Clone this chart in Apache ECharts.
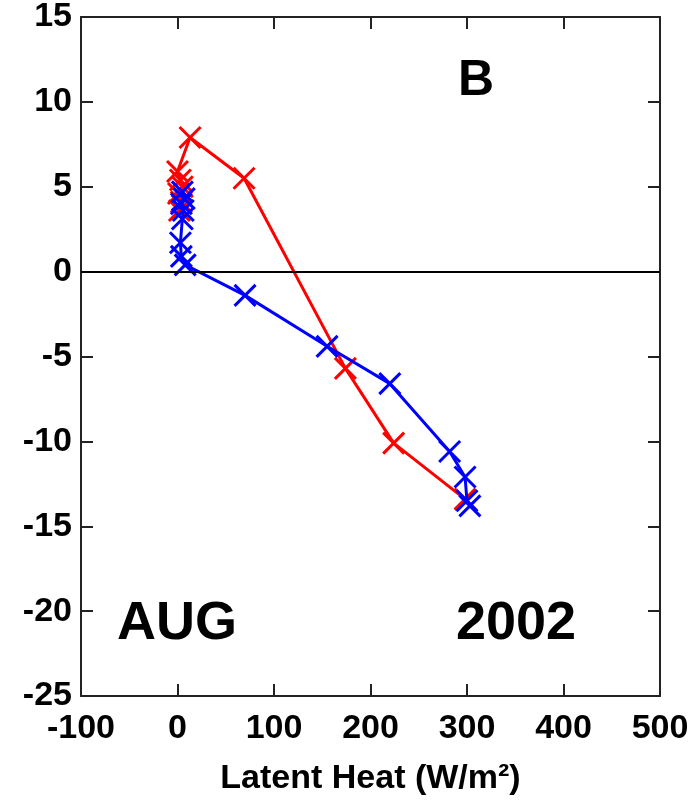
<!DOCTYPE html>
<html>
<head>
<meta charset="utf-8">
<script src="https://cdn.jsdelivr.net/npm/echarts@6/dist/echarts.min.js"></script>
<style>
  html, body { margin: 0; padding: 0; background: #fff; }
  #chart { width: 695px; height: 801px; }
</style>
</head>
<body>
<div id="chart"></div>
<script>
// 数据
const xTicks = [-100, 0, 100, 200, 300, 400, 500];
const yTicks = [-25, -20, -15, -10, -5, 0, 5, 10, 15];

// 红线
const redHeat = [2, 4, 1, 5, 3, 0, 13, 69, 174, 224, 298];
const redLevel = [3.6, 4.1, 4.6, 5.0, 5.4, 5.9, 7.9, 5.5, -5.7, -10.1, -13.4];

// 蓝线
const blueHeat = [5, 7, 4, 6, 5, 3, 4, 8, 70, 155, 220, 282, 298, 300, 303];
const blueLevel = [4.7, 4.3, 4.0, 3.6, 3.1, 1.7, 0.9, 0.4, -1.4, -4.4, -6.6, -10.6, -12.1, -13.5, -13.8];

const zip = (xs, ys) => xs.map((x, i) => [x, ys[i]]);

const font = '"Liberation Sans", Arial, Helvetica, sans-serif';
const cross = 'path://M0,0L10,10M10,0L0,10';

const chart = echarts.init(document.getElementById('chart'));

const axisCommon = {
  axisLine: { show: true, onZero: false, lineStyle: { color: '#222', width: 2 } },
  axisTick: { show: true, inside: true, length: 12, lineStyle: { color: '#222', width: 2 } },
  splitLine: { show: false }
};

const option = {
  animation: false,
  backgroundColor: '#fff',
  grid: { left: 81, right: 35, top: 11, bottom: 95, containLabel: false },
  xAxis: [
    Object.assign({}, axisCommon, {
      type: 'value', position: 'bottom',
      min: xTicks[0], max: xTicks[xTicks.length - 1], interval: 100,
      axisLabel: { color: '#000', fontSize: 34, fontWeight: 'bold', fontFamily: font, margin: 16 },
      name: 'Latent Heat (W/m²)',
      nameLocation: 'middle',
      nameGap: 66,
      nameTextStyle: { color: '#000', fontSize: 34, fontWeight: 'bold', fontFamily: font }
    }),
    Object.assign({}, axisCommon, {
      type: 'value', position: 'top',
      min: xTicks[0], max: xTicks[xTicks.length - 1], interval: 100,
      axisLabel: { show: false }
    })
  ],
  yAxis: [
    Object.assign({}, axisCommon, {
      type: 'value', position: 'left',
      min: yTicks[0], max: yTicks[yTicks.length - 1], interval: 5,
      axisLabel: { color: '#000', fontSize: 34, fontWeight: 'bold', fontFamily: font, margin: 9 }
    }),
    Object.assign({}, axisCommon, {
      type: 'value', position: 'right',
      min: yTicks[0], max: yTicks[yTicks.length - 1], interval: 5,
      axisLabel: { show: false }
    })
  ],
  graphic: [
    { type: 'text', left: 458, top: 56, style: { text: 'B', fill: '#000', font: 'bold 50px ' + font } },
    { type: 'text', left: 117, top: 597, style: { text: 'AUG', fill: '#000', font: 'bold 54px ' + font } },
    { type: 'text', left: 456, top: 597, style: { text: '2002', fill: '#000', font: 'bold 54px ' + font } }
  ],
  series: [
    {
      name: 'red',
      type: 'line',
      data: zip(redHeat, redLevel),
      symbol: cross,
      symbolSize: 21,
      showAllSymbol: true,
      itemStyle: { color: 'transparent', borderColor: '#ff0000', borderWidth: 3 },
      lineStyle: { color: '#ff0000', width: 3 },
      markLine: {
        silent: true,
        symbol: 'none',
        label: { show: false },
        lineStyle: { color: '#000', width: 2, type: 'solid' },
        data: [{ yAxis: 0 }]
      },
      z: 2
    },
    {
      name: 'blue',
      type: 'line',
      data: zip(blueHeat, blueLevel),
      symbol: cross,
      symbolSize: 21,
      showAllSymbol: true,
      itemStyle: { color: 'transparent', borderColor: '#0000ff', borderWidth: 3 },
      lineStyle: { color: '#0000ff', width: 3 },
      z: 3
    }
  ]
};

chart.setOption(option);
</script>
</body>
</html>
